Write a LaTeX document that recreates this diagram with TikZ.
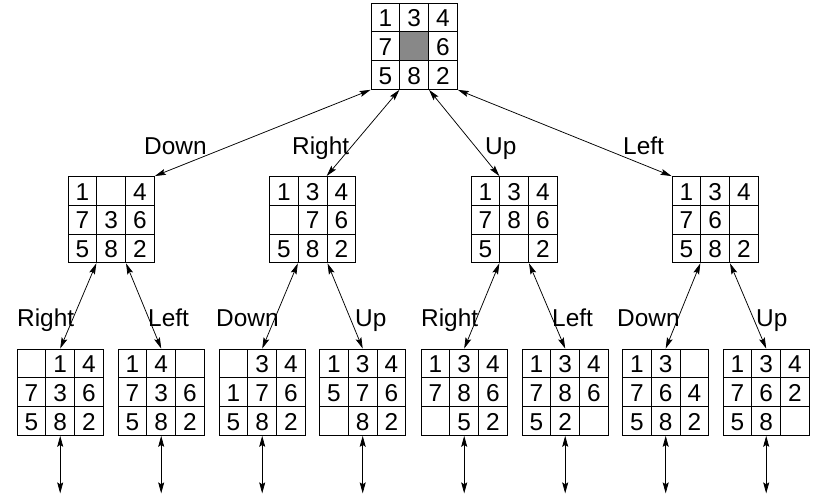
\documentclass[tikz,border=0pt]{standalone}
\usepackage{fontspec}
\setmainfont{Liberation Sans}
\usetikzlibrary{arrows.meta,calc}
\definecolor{puzgray}{RGB}{136,136,136}
\newcommand\cs{28.8}
\newcommand\puz[3]{%
  \foreach \v [count=\k from 0] in {#3} {
    \pgfmathtruncatemacro\rr{\k/3}
    \pgfmathtruncatemacro\cc{mod(\k,3)}
    \node[cellbox] (#1-\k) at ($(#2)+(\cc*\cs+\cs/2,\rr*\cs+\cs/2)$) {\v};
  }%
}
\tikzset{
  cellbox/.style={draw, line width=0.9bp, minimum size=28.8bp, inner sep=0pt,
    text height=18.3bp, text depth=0pt, font=\fontsize{24.5}{28}\selectfont},
  movelabel/.style={anchor=base west, inner sep=0pt, font=\fontsize{24.5}{28}\selectfont},
  link/.style={line width=0.75bp, {Stealth[length=11bp,width=6bp,inset=2bp]}-{Stealth[length=11bp,width=6bp,inset=2bp]}}
}
\begin{document}
\begin{tikzpicture}[x=1bp,y=-1bp]
\useasboundingbox (0,0) rectangle (821,495);
% top
\puz{top}{371,3}{1,3,4,7,{},6,5,8,2}
\node[fill=puzgray, minimum size=27.8bp, inner sep=0pt] (hole) at (top-4) {};
% middle
\puz{ma}{68,176.5}{1,{},4,7,3,6,5,8,2}
\puz{mb}{269.5,176.5}{1,3,4,{},7,6,5,8,2}
\puz{mc}{471,176.5}{1,3,4,7,8,6,5,{},2}
\puz{md}{672,176.5}{1,3,4,7,6,{},5,8,2}
% bottom
\puz{ba}{17,349}{{},1,4,7,3,6,5,8,2}
\puz{bb}{118,349}{1,4,{},7,3,6,5,8,2}
\puz{bc}{219,349}{{},3,4,1,7,6,5,8,2}
\puz{bd}{319.5,349}{1,3,4,5,7,6,{},8,2}
\puz{be}{421,349}{1,3,4,7,8,6,{},5,2}
\puz{bf}{522,349}{1,3,4,7,8,6,5,2,{}}
\puz{bg}{622.5,349}{1,3,{},7,6,4,5,8,2}
\puz{bh}{723,349}{1,3,4,7,6,2,5,8,{}}
% top links
\draw[link] (top-6.south west) -- (ma-2.north east);
\draw[link] (top-7.south west) -- (mb-2.north west);
\draw[link] (top-7.south east) -- (mc-1.north west);
\draw[link] (top-8.south east) -- (md-0.north west);
% middle links
\draw[link] (ma-7.south west) -- (ba-1.north);
\draw[link] (ma-7.south east) -- (bb-1.north);
\draw[link] (mb-7.south west) -- (bc-1.north);
\draw[link] (mb-7.south east) -- (bd-1.north);
\draw[link] (mc-7.south west) -- (be-1.north);
\draw[link] (mc-7.south east) -- (bf-1.north);
\draw[link] (md-7.south west) -- (bg-1.north);
\draw[link] (md-7.south east) -- (bh-1.north);
% bottom links
\foreach \b in {ba,bb,bc,bd,be,bf,bg,bh} {
  \coordinate (\b-end) at ($(\b-7.south)+(0,57.5)$);
  \draw[link] (\b-7.south) -- (\b-end);
}
% labels
\node[movelabel] (l1) at (144,155) {Down};
\node[movelabel] (l2) at (292,155) {Right};
\node[movelabel] (l3) at (485,155) {Up};
\node[movelabel] (l4) at (623,155) {Left};
\node[movelabel] (l5) at (17,327) {Right};
\node[movelabel] (l6) at (148,327) {Left};
\node[movelabel] (l7) at (216,327) {Down};
\node[movelabel] (l8) at (355,327) {Up};
\node[movelabel] (l9) at (421,327) {Right};
\node[movelabel] (l10) at (552,327) {Left};
\node[movelabel] (l11) at (617,327) {Down};
\node[movelabel] (l12) at (756,327) {Up};
\end{tikzpicture}
\end{document}
